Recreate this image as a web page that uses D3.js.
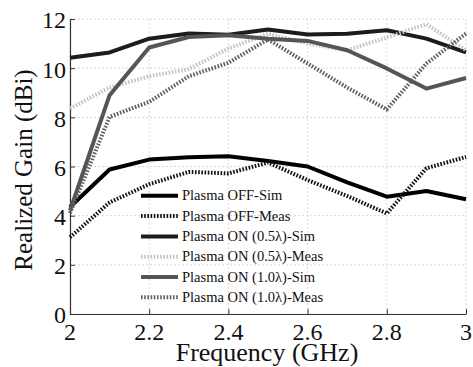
<!DOCTYPE html>
<html><head><meta charset="utf-8">
<script src="https://cdn.jsdelivr.net/npm/d3@7"></script>
<style>
body{margin:0;background:#fff}
#wrap{position:relative;width:473px;height:367px;overflow:hidden}
#wrap svg{position:absolute;left:0;top:0}
.lbl{position:absolute;left:0;top:0;line-height:1;white-space:nowrap;font-family:"Liberation Serif","Times New Roman",serif;color:#111;transform-origin:0 0}
</style>
</head><body><div id="wrap"><svg id="c" width="473" height="367"></svg></div>
<script>
const freqs = [2.0,2.1,2.2,2.3,2.4,2.5,2.6,2.7,2.8,2.9,3.0];
const offSim  = [4.35,5.88,6.28,6.38,6.42,6.22,6.0,5.35,4.77,5.0,4.67];
const offMeas = [3.12,4.54,5.28,5.78,5.72,6.16,5.45,4.8,4.09,5.93,6.39];
const on05Sim = [10.42,10.64,11.2,11.41,11.36,11.57,11.37,11.4,11.54,11.2,10.64];
const on05Meas= [8.36,9.21,9.67,9.96,10.8,11.4,11.0,10.73,11.25,11.79,10.73];
const on10Sim = [4.2,8.9,10.84,11.27,11.34,11.2,11.11,10.73,9.99,9.17,9.6];
const on10Meas= [4.1,8.02,8.63,9.67,10.22,11.17,10.19,9.21,8.32,10.19,11.41];
const seriesNames = ["Plasma OFF-Sim","Plasma OFF-Meas","Plasma ON (0.5\u03bb)-Sim","Plasma ON (0.5\u03bb)-Meas","Plasma ON (1.0\u03bb)-Sim","Plasma ON (1.0\u03bb)-Meas"];
const xTicks = [2,2.2,2.4,2.6,2.8,3];
const yTicks = [0,2,4,6,8,10,12];
const xTitle = "Frequency (GHz)";
const yTitle = "Realized Gain (dBi)";

const series = [
 {name:seriesNames[0], v:offSim,  color:"#000", dash:null},
 {name:seriesNames[1], v:offMeas, color:"#111", dash:"1.6,1.6"},
 {name:seriesNames[2], v:on05Sim, color:"#1c1c1c", dash:null},
 {name:seriesNames[3], v:on05Meas,color:"#c4c4c4", dash:"1.6,1.6"},
 {name:seriesNames[4], v:on10Sim, color:"#555", dash:null},
 {name:seriesNames[5], v:on10Meas,color:"#5e5e5e", dash:"1.6,1.6"}
];

const wrap = d3.select("#wrap");
const svg = d3.select("#c");
const L=70,R=466,T=19,B=314;
const x = d3.scaleLinear().domain([2,3]).range([L,R]);
const y = d3.scaleLinear().domain([0,12]).range([B,T]);

// HTML text helper (baseline-positioned)
function label(txt, px, py, size, anchor, rot){
  const ax = anchor==="middle"?"-50%":anchor==="end"?"-100%":"0";
  const r = rot?` rotate(${rot}deg)`:"";
  wrap.append("div").attr("class","lbl").style("font-size",size+"px")
   .style("transform",`translate(${px}px,${py}px)${r} translate(${ax},${-0.8375*size}px)`)
   .text(txt);
}

// grid
const g = svg.append("g");
g.selectAll(".gx").data(xTicks).enter().append("line")
 .attr("x1",d=>x(d)).attr("x2",d=>x(d)).attr("y1",T).attr("y2",B)
 .attr("stroke","#d8d8d8").attr("stroke-width",1).attr("stroke-dasharray","2,2");
g.selectAll(".gy").data(yTicks).enter().append("line")
 .attr("x1",L).attr("x2",R).attr("y1",d=>y(d)).attr("y2",d=>y(d))
 .attr("stroke","#d8d8d8").attr("stroke-width",1).attr("stroke-dasharray","2,2");

// axes (lines and ticks via d3 axis; labels as HTML text)
const xa = svg.append("g").attr("transform",`translate(0,${B})`)
 .call(d3.axisBottom(x).tickValues(xTicks).tickSizeInner(-5).tickSizeOuter(0).tickFormat(""));
const ya = svg.append("g").attr("transform",`translate(${L},0)`)
 .call(d3.axisLeft(y).tickValues(yTicks).tickSizeInner(-5).tickSizeOuter(0).tickFormat(""));
[xa,ya].forEach(a=>{
 a.select(".domain").attr("stroke","#333").attr("stroke-width",1.2);
 a.selectAll(".tick line").attr("stroke","#333");
 a.selectAll("text").remove();});
const fmt = d3.format("");
xTicks.forEach(t=>label(fmt(t), x(t), 340, 24, "middle"));
yTicks.forEach(t=>label(fmt(t), 66, y(t)+9.5, 24, "end"));

// lines
const line = d3.line().x((d,i)=>x(freqs[i])).y(d=>y(d));
const lg = svg.append("g");
series.forEach(s=>{
 lg.append("path").datum(s.v).attr("d",line).attr("fill","none")
  .attr("stroke",s.color).attr("stroke-width",4).attr("stroke-linejoin","round")
  .attr("stroke-dasharray",s.dash);
});

// legend
const leg = svg.append("g");
series.forEach((s,i)=>{
 const yy = 195.8 + i*20.3;
 leg.append("line").attr("x1",141).attr("x2",178).attr("y1",yy).attr("y2",yy)
  .attr("stroke",s.color).attr("stroke-width",4).attr("stroke-dasharray",s.dash);
 label(s.name, 182, yy+4.8, 14.5, "start");
});

// axis titles
label(xTitle, 267, 362, 26, "middle");
label(yTitle, 32, 170, 25, "middle", -90);
</script></body></html>
